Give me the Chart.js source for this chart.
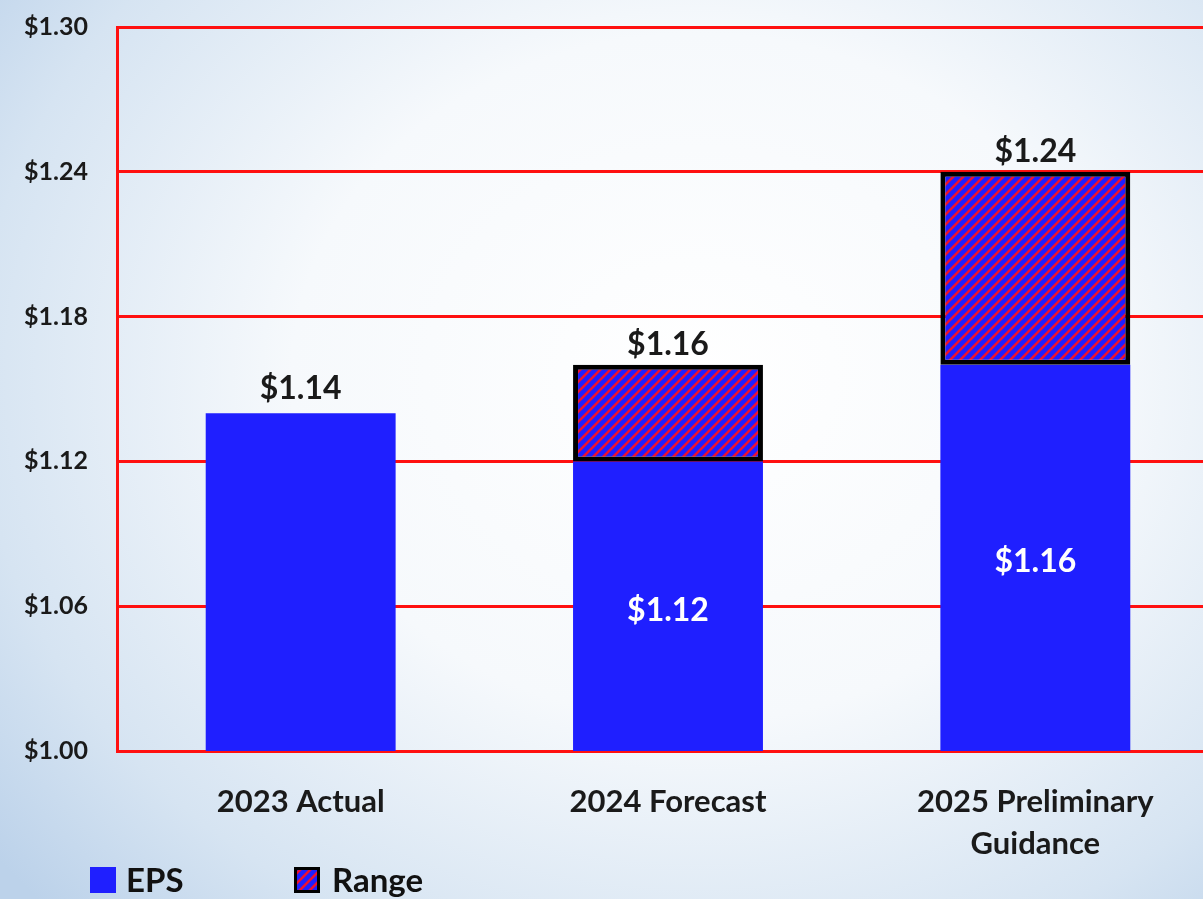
<!DOCTYPE html>
<html>
<head>
<meta charset="utf-8">
<script src="https://cdn.jsdelivr.net/npm/chart.js@4"></script>
<style>
  html, body { margin: 0; padding: 0; overflow: hidden; }
  body {
    width: 1203px; height: 899px;
    background: radial-gradient(ellipse 75% 85% at 58% 42%, #ffffff 0%, #f6f9fc 45%, #d6e4f2 80%, #bcd2ea 100%);
  }
  canvas { display: block; }
</style>
</head>
<body>
<canvas id="epsChart" width="1222" height="899"></canvas>
<script>
// EPS y rango de guia
var categorias = [['2023 Actual'], ['2024 Forecast'], ['2025 Preliminary', 'Guidance']];
var epsValores = [1.14, 1.12, 1.16];
var rangoAlto  = [null, 1.16, 1.24];
var ticksY     = [1.00, 1.06, 1.12, 1.18, 1.24, 1.30];

var azul = '#1f1fff';
var rojo = '#ff1010';

// patron rayado rojo/azul
function rayado() {
    var p = document.createElement('canvas');
    p.width = 10; p.height = 10;
    var c = p.getContext('2d');
    c.fillStyle = azul;
    c.fillRect(0, 0, 10, 10);
    c.strokeStyle = '#ee1030';
    c.lineWidth = 2.6;
    c.beginPath();
    c.moveTo(-2, 12); c.lineTo(12, -2);
    c.moveTo(-7, 7); c.lineTo(7, -7);
    c.moveTo(3, 17); c.lineTo(17, 3);
    c.stroke();
    return c.createPattern(p, 'repeat');
}

var ctx = document.getElementById('epsChart').getContext('2d');
var patron = rayado();
var fuente = 'Lato, "Open Sans", sans-serif';

var etiquetas = {
    id: 'etiquetas',
    afterDatasetsDraw: function (chart) {
        var c = chart.ctx;
        var area = chart.chartArea;
        var m0 = chart.getDatasetMeta(0);
        var m1 = chart.getDatasetMeta(1);
        c.save();
        c.textAlign = 'center';
        c.font = 'bold 32px ' + fuente;
        epsValores.forEach(function (v, i) {
            var bar = m0.data[i];
            if (rangoAlto[i] == null) {
                c.fillStyle = '#1a1a1a';
                c.textBaseline = 'bottom';
                c.fillText('$' + v.toFixed(2), bar.x, bar.y - 8);
            } else {
                c.fillStyle = '#ffffff';
                c.textBaseline = 'middle';
                c.fillText('$' + v.toFixed(2), bar.x, (bar.y + area.bottom) / 2 + 4);
                var r = m1.data[i];
                c.fillStyle = '#1a1a1a';
                c.textBaseline = 'bottom';
                c.fillText('$' + rangoAlto[i].toFixed(2), r.x, r.y - 4);
            }
        });
        c.restore();
    },
    afterDraw: function (chart) {
        var c = chart.ctx;
        c.save();
        c.font = 'bold 33px ' + fuente;
        c.textBaseline = 'middle';
        c.fillStyle = azul;
        c.fillRect(90, 867, 26, 26);
        c.fillStyle = '#111';
        c.textAlign = 'left';
        c.fillText('EPS', 126, 881);
        c.fillStyle = patron;
        c.fillRect(294, 867, 26, 26);
        c.strokeStyle = '#000';
        c.lineWidth = 3;
        c.strokeRect(295.5, 868.5, 23, 23);
        c.fillStyle = '#111';
        c.fillText('Range', 332, 881);
        c.restore();
    }
};

new Chart(ctx, {
    type: 'bar',
    data: {
        labels: categorias,
        datasets: [
            {
                label: 'EPS',
                data: epsValores,
                backgroundColor: azul,
                borderWidth: 0,
                grouped: false,
                order: 2
            },
            {
                label: 'Range',
                data: epsValores.map(function (v, i) { return rangoAlto[i] == null ? null : [v, rangoAlto[i]]; }),
                backgroundColor: patron,
                borderColor: '#000',
                borderWidth: 5,
                borderSkipped: false,
                grouped: false,
                order: 1
            }
        ]
    },
    options: {
        responsive: false,
        animation: false,
        layout: { padding: { top: 27, right: 3, bottom: 0, left: 0 } },
        datasets: { bar: { barPercentage: 0.517, categoryPercentage: 1 } },
        plugins: { legend: { display: false }, tooltip: { enabled: false } },
        scales: {
            x: {
                grid: { display: false, drawTicks: false },
                border: { display: true, color: rojo, width: 3 },
                ticks: {
                    color: '#1a1a1a',
                    padding: 30,
                    font: { family: fuente, size: 31, weight: 'bold', lineHeight: 1.35 }
                },
                afterFit: function (s) { s.height = 148; }
            },
            y: {
                min: 1.00,
                max: 1.30,
                afterBuildTicks: function (s) { s.ticks = ticksY.map(function (v) { return { value: v }; }); },
                grid: { color: rojo, lineWidth: 3, drawTicks: false },
                border: { display: true, color: rojo, width: 3 },
                ticks: {
                    color: '#1a1a1a',
                    padding: 29,
                    font: { family: fuente, size: 25, weight: 'bold' },
                    callback: function (v) { return '$' + Number(v).toFixed(2); }
                },
                afterFit: function (s) { s.width = 117; s.paddingTop = 0; s.paddingBottom = 0; }
            }
        }
    },
    plugins: [etiquetas]
});
</script>
</body>
</html>
